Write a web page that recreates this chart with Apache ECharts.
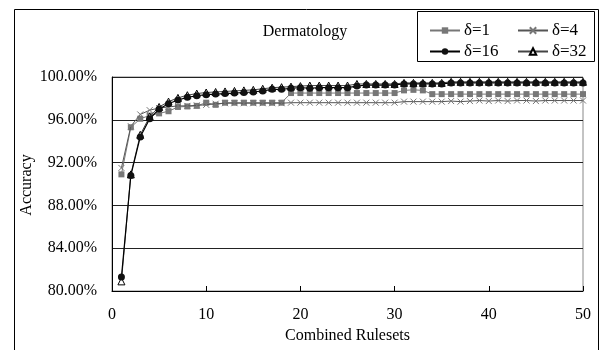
<!DOCTYPE html>
<html>
<head>
<meta charset="utf-8">
<script src="https://cdn.jsdelivr.net/npm/echarts@6/dist/echarts.min.js"></script>
<style>
  html, body { margin: 0; padding: 0; background: #fff; }
  #chart { width: 599px; height: 350px; }
</style>
</head>
<body>
<div id="chart"></div>
<script>
// Accuracy (%) of the combined rulesets for each delta setting, Dermatology data set
const rulesets = Array.from({ length: 50 }, (_, i) => i + 1);
const seriesNames = ['δ=1', 'δ=4', 'δ=16', 'δ=32'];
const acc1 = [
  90.9, 95.3, 96.1, 96.4, 96.6, 96.8, 97.2, 97.25, 97.3, 97.6,
  97.4, 97.6, 97.6, 97.6, 97.6, 97.6, 97.6, 97.6, 98.5, 98.5,
  98.5, 98.5, 98.5, 98.5, 98.5, 98.5, 98.5, 98.5, 98.5, 98.5,
  98.75, 98.8, 98.75, 98.4, 98.4, 98.4, 98.4, 98.4, 98.4, 98.4,
  98.4, 98.4, 98.4, 98.4, 98.4, 98.4, 98.4, 98.4, 98.4, 98.4
];
const acc4 = [
  91.5, 95.4, 96.5, 96.9, 97.1, 97.2, 97.3, 97.3, 97.35, 97.4,
  97.5, 97.55, 97.55, 97.55, 97.55, 97.55, 97.55, 97.55, 97.6, 97.6,
  97.6, 97.6, 97.6, 97.6, 97.6, 97.6, 97.6, 97.6, 97.6, 97.6,
  97.7, 97.7, 97.7, 97.7, 97.7, 97.75, 97.7, 97.75, 97.8, 97.75,
  97.8, 97.75, 97.8, 97.8, 97.75, 97.8, 97.8, 97.8, 97.8, 97.8
];
const acc16 = [
  81.3, 90.8, 94.4, 96.1, 97.0, 97.5, 97.85, 98.1, 98.25, 98.35,
  98.4, 98.45, 98.5, 98.55, 98.6, 98.7, 98.85, 98.85, 98.95, 99.0,
  98.95, 99.0, 99.0, 99.0, 99.0, 99.15, 99.25, 99.25, 99.25, 99.25,
  99.35, 99.35, 99.35, 99.35, 99.35, 99.45, 99.45, 99.45, 99.45, 99.45,
  99.45, 99.45, 99.45, 99.45, 99.45, 99.45, 99.45, 99.45, 99.45, 99.45
];
const acc32 = [
  80.9, 90.9, 94.6, 96.3, 97.2, 97.7, 98.05, 98.3, 98.45, 98.55,
  98.6, 98.65, 98.7, 98.75, 98.8, 98.9, 99.0, 99.05, 99.1, 99.15,
  99.2, 99.2, 99.2, 99.2, 99.2, 99.35, 99.35, 99.35, 99.35, 99.35,
  99.45, 99.45, 99.45, 99.45, 99.45, 99.55, 99.55, 99.55, 99.55, 99.55,
  99.55, 99.55, 99.55, 99.55, 99.55, 99.55, 99.55, 99.55, 99.55, 99.55
];

const FONT = '"Liberation Serif", "Times New Roman", serif';
const pairs = (ys) => rulesets.map((x, i) => [x, ys[i]]);
const crossPath = 'path://M0,0L10,10M10,0L0,10';

const chart = echarts.init(document.getElementById('chart'), null, { renderer: 'canvas' });

const legendText = { fontFamily: FONT, fontSize: 17, color: '#000', padding: [0, 0, 0, -1] };

chart.setOption({
  animation: false,
  backgroundColor: '#fff',
  textStyle: { fontFamily: FONT, color: '#000' },
  grid: { left: 112, top: 77, width: 471, height: 214, containLabel: false,
          show: true, borderColor: '#888', borderWidth: 1 },
  legend: [
    {
      data: [seriesNames[0], seriesNames[2]],
      orient: 'vertical', left: 424, top: 17, itemGap: 4,
      itemWidth: 30, itemHeight: 8, textStyle: legendText
    },
    {
      data: [seriesNames[1], seriesNames[3]],
      orient: 'vertical', left: 512, top: 17, itemGap: 4,
      itemWidth: 30, itemHeight: 8, textStyle: legendText
    }
  ],
  xAxis: {
    type: 'value', min: 0, max: 50, interval: 10,
    name: 'Combined Rulesets', nameLocation: 'middle', nameGap: 36,
    nameTextStyle: { fontFamily: FONT, fontSize: 16, color: '#000' },
    axisLine: { show: true, lineStyle: { color: '#000', width: 1 } },
    axisTick: { show: true, inside: true, length: 5, lineStyle: { color: '#000' } },
    axisLabel: { fontFamily: FONT, fontSize: 16, color: '#000', margin: 16 },
    splitLine: { show: false }
  },
  yAxis: {
    type: 'value', min: 80, max: 100, interval: 4,
    axisLine: { show: true, lineStyle: { color: '#000', width: 1 } },
    axisTick: { show: false },
    axisLabel: { fontFamily: FONT, fontSize: 16, color: '#000', margin: 15,
                 formatter: (v) => v.toFixed(2) + '%' },
    splitLine: { show: true, lineStyle: { color: '#222', width: 1 } }
  },
  series: [
    {
      name: seriesNames[0], type: 'line', data: pairs(acc1), z: 2,
      symbol: 'rect', symbolSize: 6,
      lineStyle: { color: '#777', width: 1 },
      itemStyle: { color: '#777' }
    },
    {
      name: seriesNames[1], type: 'line', data: pairs(acc4), z: 3,
      symbol: crossPath, symbolSize: 6,
      lineStyle: { color: '#555', width: 1 },
      itemStyle: { color: 'rgba(0,0,0,0)', borderColor: '#777', borderWidth: 1 }
    },
    {
      name: seriesNames[3], type: 'line', data: pairs(acc32), z: 4,
      symbol: 'triangle', symbolSize: 7,
      lineStyle: { color: '#444', width: 1 },
      itemStyle: { color: '#fff', borderColor: '#000', borderWidth: 1 }
    },
    {
      name: seriesNames[2], type: 'line', data: pairs(acc16), z: 5,
      symbol: 'circle', symbolSize: 7,
      lineStyle: { color: '#000', width: 1.2 },
      itemStyle: { color: '#111' }
    }
  ],
  graphic: [
    { type: 'rect', left: 12, top: 7, z: -1, silent: true,
      shape: { width: 584, height: 341 },
      style: { fill: 'none', stroke: '#000', lineWidth: 1 } },
    { type: 'rect', left: 415, top: 9, silent: true,
      shape: { width: 177, height: 50 },
      style: { fill: 'none', stroke: '#000', lineWidth: 1 } },
    { type: 'text', x: 305, y: 32, silent: true,
      style: { text: 'Dermatology', font: '16px ' + FONT, fill: '#000',
               align: 'center', verticalAlign: 'middle' } },
    { type: 'text', x: 27, y: 185, rotation: Math.PI / 2, silent: true,
      style: { text: 'Accuracy', font: '16px ' + FONT, fill: '#000',
               align: 'center', verticalAlign: 'middle' } }
  ]
});
</script>
</body>
</html>
